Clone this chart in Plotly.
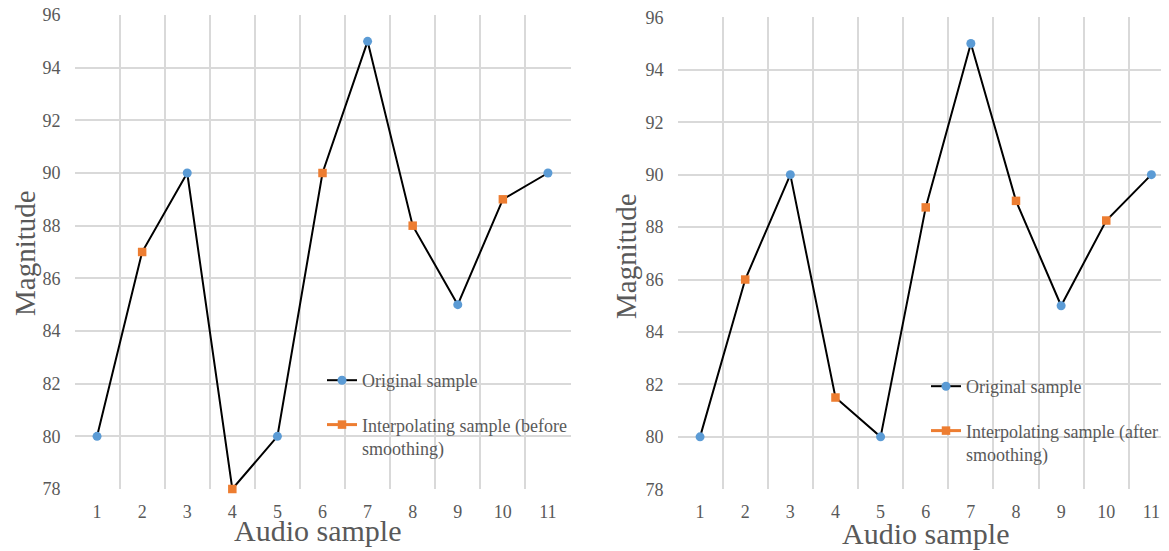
import plotly.graph_objects as go

samples = list(range(1, 12))
before = [80, 87, 90, 78, 80, 90, 95, 88, 85, 89, 90]
after = [80, 86, 90, 81.5, 80, 88.75, 95, 89, 85, 88.25, 90]
y_ticks = [78, 80, 82, 84, 86, 88, 90, 92, 94, 96]

BLUE = "#5b9bd5"
ORANGE = "#ed7d31"
GRID = "#d9d9d9"
TXT = "#595959"
FONT = "Liberation Serif"
W, H = 1169, 551
OFF = 8  # page body margin


def px(x):
    return (x - OFF) / W


def py(y):
    return 1 - (y - OFF) / H


fig = go.Figure()


def add_panel(vals, xa, ya, legend, interp_name):
    odd_x = [s for s in samples if s % 2 == 1]
    odd_y = [v for s, v in zip(samples, vals) if s % 2 == 1]
    even_x = [s for s in samples if s % 2 == 0]
    even_y = [v for s, v in zip(samples, vals) if s % 2 == 0]
    fig.add_trace(go.Scatter(x=samples, y=vals, mode="lines", line=dict(color="black", width=2),
                             showlegend=False, xaxis=xa, yaxis=ya, hoverinfo="skip", cliponaxis=False))
    fig.add_trace(go.Scatter(x=odd_x, y=odd_y, mode="markers", marker=dict(color=BLUE, size=9, symbol="circle"),
                             showlegend=False, xaxis=xa, yaxis=ya, cliponaxis=False))
    fig.add_trace(go.Scatter(x=even_x, y=even_y, mode="markers", marker=dict(color=ORANGE, size=8.5, symbol="square"),
                             showlegend=False, xaxis=xa, yaxis=ya, cliponaxis=False))
    # legend entries
    fig.add_trace(go.Scatter(x=[None], y=[None], mode="lines+markers", name="Original sample",
                             line=dict(color="black", width=2), marker=dict(color=BLUE, size=9, symbol="circle"),
                             legend=legend, legendgroup=legend + "a", xaxis=xa, yaxis=ya))
    fig.add_trace(go.Scatter(x=[None], y=[None], mode="lines+markers", name=interp_name,
                             line=dict(color=ORANGE, width=3), marker=dict(color=ORANGE, size=8.5, symbol="square"),
                             legend=legend, legendgroup=legend + "b", xaxis=xa, yaxis=ya))


add_panel(before, "x", "y", "legend", "Interpolating sample (before<br>smoothing)")
add_panel(after, "x2", "y2", "legend2", "Interpolating sample (after<br>smoothing)")


def xaxis(domain, rng):
    return dict(domain=domain, range=rng, tickmode="array", tickvals=samples, ticktext=[str(s) for s in samples],
                showgrid=False, zeroline=False, showline=False, ticks="", automargin=False,
                ticklabelstandoff=10, ticklabeloverflow="allow",
                tickfont=dict(family=FONT, size=18, color=TXT),
                minor=dict(tickmode="linear", tick0=0.5, dtick=1, showgrid=True, gridcolor=GRID, gridwidth=1.5, ticks=""))


def yaxis(domain, anchor):
    return dict(domain=domain, range=[78, 96], tickmode="array", tickvals=y_ticks,
                showgrid=True, gridcolor=GRID, gridwidth=1.5, zeroline=False, showline=False, ticks="",
                ticklabelstandoff=13, anchor=anchor, automargin=False, ticklabeloverflow="allow",
                tickfont=dict(family=FONT, size=18, color=TXT))


leg_common = dict(font=dict(family=FONT, size=18, color=TXT), bgcolor="rgba(0,0,0,0)",
                  tracegroupgap=18, traceorder="grouped", valign="top", xanchor="left", yanchor="top",
                  itemwidth=30)

fig.update_layout(
    width=W, height=H,
    margin=dict(l=0, r=0, t=0, b=0, autoexpand=False),
    paper_bgcolor="white", plot_bgcolor="white",
    xaxis=dict(xaxis([px(74.5), px(570.5)], [0.5, 11.5]), anchor="y"),
    yaxis=yaxis([py(489), py(15)], "x"),
    xaxis2=dict(xaxis([px(677.5), px(1169)], [0.5, 11.39]), anchor="y2"),
    yaxis2=yaxis([py(489.3), py(17.3)], "x2"),
    legend=dict(leg_common, x=px(322), y=py(362)),
    legend2=dict(leg_common, x=px(926), y=py(368)),
    annotations=[
        dict(text="Magnitude", x=px(25), y=py(253), xref="paper", yref="paper", textangle=-90,
             xanchor="center", yanchor="middle",
             showarrow=False, font=dict(family=FONT, size=29, color=TXT)),
        dict(text="Magnitude", x=px(626), y=py(256), xref="paper", yref="paper", textangle=-90,
             xanchor="center", yanchor="middle",
             showarrow=False, font=dict(family=FONT, size=29, color=TXT)),
        dict(text="Audio sample", x=px(318), y=py(530), xref="paper", yref="paper",
             xanchor="center", yanchor="middle",
             showarrow=False, font=dict(family=FONT, size=30, color=TXT)),
        dict(text="Audio sample", x=px(925), y=py(533), xref="paper", yref="paper",
             xanchor="center", yanchor="middle",
             showarrow=False, font=dict(family=FONT, size=30, color=TXT)),
    ],
)

fig.write_html("out.html")
